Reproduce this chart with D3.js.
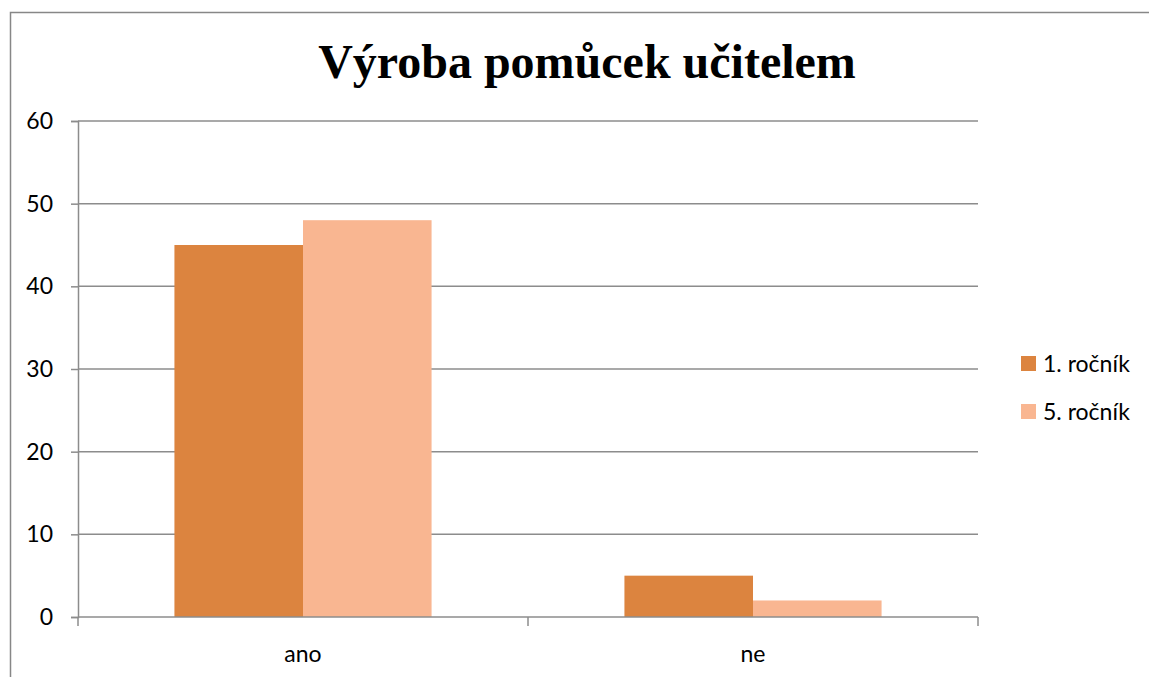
<!DOCTYPE html>
<html lang="cs">
<head>
<meta charset="utf-8">
<title>Výroba pomůcek učitelem</title>
<script src="https://d3js.org/d3.v7.min.js"></script>
<style>
  body { margin: 0; background: #fff; }
  text { font-family: Lato, "Open Sans", sans-serif; }
</style>
</head>
<body>
<script>
const categories = ["ano", "ne"];
const seriesNames = ["1. ročník", "5. ročník"];
const values1 = [45, 5];
const values5 = [48, 2];
const yTicks = [0, 10, 20, 30, 40, 50, 60];
const colors = ["#dc843f", "#f9b691"];

const width = 1149, height = 677;
const plotLeft = 78, plotRight = 978, plotTop = 121, plotBottom = 617;
const labelSize = "23px";

const svg = d3.select("body").append("svg")
  .attr("width", width).attr("height", height);

// outer frame
svg.append("rect")
  .attr("x", 10.5).attr("y", 12.5)
  .attr("width", 1160).attr("height", 700)
  .attr("fill", "none").attr("stroke", "#878787").attr("stroke-width", 1.5);

// title
svg.append("text")
  .text("Výroba pomůcek učitelem")
  .attr("x", 587).attr("y", 78)
  .attr("text-anchor", "middle")
  .style("font-family", "'Liberation Serif', 'Times New Roman', serif")
  .style("font-weight", "bold")
  .style("font-size", "48px")
  .attr("fill", "#000");

const y = d3.scaleLinear().domain([0, 60]).range([plotBottom, plotTop]);
const x0 = d3.scaleBand().domain(categories).range([plotLeft, plotRight]).paddingInner(0).paddingOuter(0);
const x1 = d3.scaleBand().domain(seriesNames).range([0, x0.bandwidth()]).paddingInner(0).paddingOuter(0.75);

// gridlines
svg.append("g").selectAll("line").data(yTicks.filter(d => d > 0)).enter()
  .append("line")
  .attr("x1", plotLeft).attr("x2", plotRight)
  .attr("y1", d => y(d)).attr("y2", d => y(d))
  .attr("stroke", "#8c8c8c").attr("stroke-width", 1.5);

// y axis
const yAxis = d3.axisLeft(y).tickValues(yTicks).tickSize(7).tickPadding(18);
const gy = svg.append("g").attr("transform", `translate(${plotLeft},0)`).call(yAxis);
gy.select(".domain").attr("stroke", "#8c8c8c").attr("stroke-width", 1.5);
gy.selectAll(".tick line").attr("stroke", "#8c8c8c").attr("stroke-width", 1.5);
gy.selectAll(".tick text").style("font-size", labelSize).attr("fill", "#000")
  .style("font-family", "Lato, 'Open Sans', sans-serif");

// bars
const groups = svg.append("g").selectAll("g").data(categories).enter()
  .append("g").attr("transform", d => `translate(${x0(d)},0)`);
groups.selectAll("rect")
  .data((d, i) => [values1[i], values5[i]].map((v, j) => ({ s: seriesNames[j], v: v, c: colors[j] })))
  .enter().append("rect")
  .attr("x", d => x1(d.s))
  .attr("width", x1.bandwidth())
  .attr("y", d => y(d.v))
  .attr("height", d => plotBottom - y(d.v))
  .attr("fill", d => d.c);

// x axis
const xAxis = d3.axisBottom(x0).tickSize(0).tickPadding(29);
const gx = svg.append("g").attr("transform", `translate(0,${plotBottom})`).call(xAxis);
gx.select(".domain").attr("stroke", "#8c8c8c").attr("stroke-width", 1.5)
  .attr("d", `M${plotLeft},0H${plotRight}`);
gx.selectAll(".tick text").style("font-size", labelSize).attr("fill", "#000")
  .style("font-family", "Lato, 'Open Sans', sans-serif");
// category separator ticks
svg.append("g").selectAll("line").data([plotLeft, plotLeft + x0.bandwidth(), plotRight]).enter()
  .append("line")
  .attr("x1", d => d).attr("x2", d => d)
  .attr("y1", plotBottom).attr("y2", plotBottom + 9)
  .attr("stroke", "#8c8c8c").attr("stroke-width", 1.5);

// legend
const legend = svg.append("g").selectAll("g").data(seriesNames).enter()
  .append("g").attr("transform", (d, i) => `translate(1021,${356 + i * 48})`);
legend.append("rect").attr("width", 15).attr("height", 15).attr("fill", (d, i) => colors[i]);
legend.append("text").text(d => d).attr("x", 22).attr("y", 16)
  .style("font-size", labelSize).attr("fill", "#000");
</script>
</body>
</html>
